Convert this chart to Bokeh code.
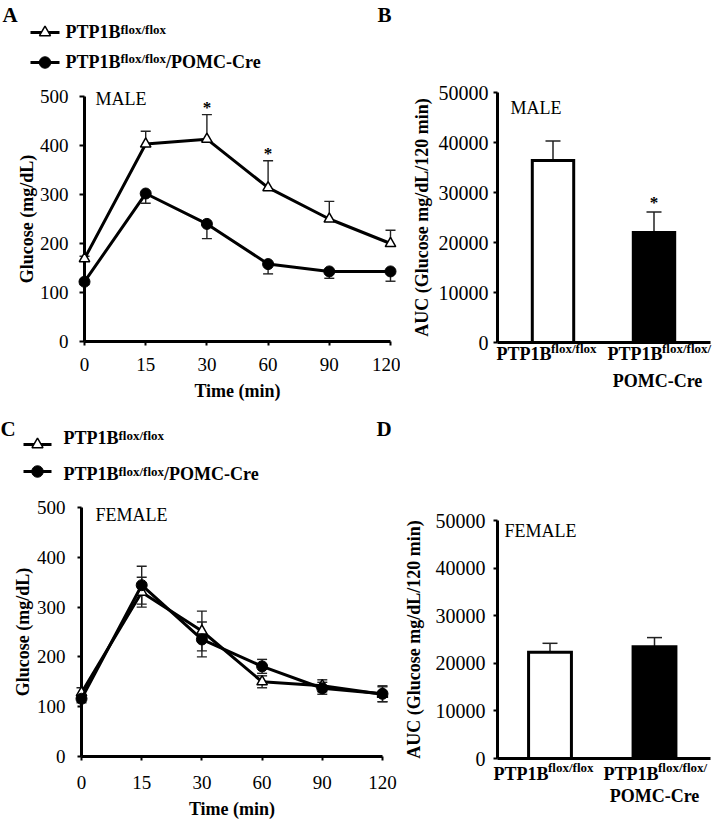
from bokeh.plotting import figure
from bokeh.models import (Range1d, FixedTicker, Whisker, TeeHead, ColumnDataSource,
                          LinearAxis)
from bokeh.layouts import row, column
from bokeh.core.properties import value
from bokeh.embed import file_html
from bokeh.resources import INLINE

# ---------------- data ----------------
time_labels = ["0", "15", "30", "60", "90", "120"]

male_ctrl = [169, 403, 413, 314, 250, 200]
male_ctrl_sem = [5, 26, 50, 55, 36, 27]
male_pomc = [122, 302, 240, 158, 143, 143]
male_pomc_sem = [6, 20, 30, 20, 14, 20]
male_sig = [False, False, True, True, False, False]

female_ctrl = [128, 330, 252, 150, 142, 125]
female_ctrl_sem = [10, 30, 40, 12, 12, 15]
female_pomc = [116, 344, 235, 181, 137, 126]
female_pomc_sem = [8, 38, 35, 14, 12, 16]

auc_groups = ["PTP1B flox/flox", "PTP1B flox/flox/POMC-Cre"]
male_auc = [36400, 22000]
male_auc_sem = [3900, 4100]
male_auc_sig = [False, True]
female_auc = [22300, 23500]
female_auc_sem = [1900, 1900]
female_auc_sig = [False, False]

glucose_ticks = [0, 100, 200, 300, 400, 500]
auc_ticks = [0, 10000, 20000, 30000, 40000, 50000]

# ---------------- layout (page pixels) ----------------
FONT = "Liberation Serif"
BASE_K = 0.33   # baseline correction (fraction of font size)
# left, top, width, height, x-origin px, y-origin px, px per x unit, px per y unit
LAY_A = (0, 0, 400, 415, 84, 341, 61.2, 0.49)
LAY_B = (400, 0, 316, 415, 552.5, 342, 101.0, 0.005)
LAY_C = (0, 415, 400, 404, 81, 756, 60.2, 0.498)
LAY_D = (400, 415, 316, 404, 549.5, 758, 104.5, 0.00476)


def make_fig(lay):
    left, top, w, h, ox, oy, sx, sy = lay
    X = lambda px: (px - ox) / sx
    Y = lambda py: (oy - py) / sy
    p = figure(width=w, height=h,
               x_range=Range1d(X(left), X(left + w)),
               y_range=Range1d(Y(top + h), Y(top)),
               output_backend="svg", toolbar_location=None,
               x_axis_type=None, y_axis_type=None, min_border=0,
               outline_line_color=None, background_fill_color="white",
               border_fill_color="white")
    return p, X, Y


def txt(p, x, y, s, size, bold=False, align="left", xo=0, yo=0):
    p.text(x=[x], y=[y], text=[s], text_font=value(FONT), text_font_size=f"{size}px",
           text_font_style="bold" if bold else "normal", text_align=align,
           text_baseline="alphabetic", text_color="black",
           x_offset=xo, y_offset=yo - BASE_K * size)


def style_axis(ax, tick_out, standoff, label_standoff, tick_size):
    ax.axis_line_color = "black"
    ax.axis_line_width = 3
    ax.major_tick_line_color = "black"
    ax.major_tick_line_width = 2
    ax.major_tick_out = tick_out
    ax.major_tick_in = 0
    ax.minor_tick_line_color = None
    ax.major_label_text_font = FONT
    ax.major_label_text_font_size = tick_size
    ax.major_label_text_color = "black"
    ax.major_label_standoff = standoff
    ax.axis_label_text_font = FONT
    ax.axis_label_text_font_size = "18px"
    ax.axis_label_text_font_style = "bold"
    ax.axis_label_text_color = "black"
    ax.axis_label_standoff = label_standoff
    ax.level = "underlay"


def add_whisker(p, xs, lower, upper, head, lo_head=True, up_head=True, lw=1.4):
    src = ColumnDataSource(dict(x=xs, lower=lower, upper=upper))
    mk = lambda: TeeHead(size=head, line_color="#222222", line_width=lw)
    w = Whisker(source=src, base="x", lower="lower", upper="upper",
                line_color="#222222", line_width=lw, level="underlay",
                upper_head=mk() if up_head else None,
                lower_head=mk() if lo_head else None)
    p.add_layout(w)


def line_panel(lay, ctrl, ctrl_sem, pomc, pomc_sem, sig, two_sided, deco):
    p, X, Y = make_fig(lay)
    idx = list(range(len(time_labels)))

    yax = LinearAxis(fixed_location=0, bounds=(0, glucose_ticks[-1]),
                     ticker=FixedTicker(ticks=glucose_ticks), axis_label="Glucose (mg/dL)")
    style_axis(yax, deco["ytick"], deco["ystand"], deco["ylabstand"], "19px")
    p.add_layout(yax, "left")
    xax = LinearAxis(fixed_location=0, bounds=(0, idx[-1]), ticker=FixedTicker(ticks=idx),
                     major_label_overrides={i: t for i, t in zip(idx, time_labels)},
                     axis_label="Time (min)")
    style_axis(xax, 4, deco["xstand"], deco["xlabstand"], "19px")
    p.add_layout(xax, "below")

    if two_sided:
        add_whisker(p, idx, [m - s for m, s in zip(ctrl, ctrl_sem)], [m + s for m, s in zip(ctrl, ctrl_sem)], 10)
        add_whisker(p, idx, [m - s for m, s in zip(pomc, pomc_sem)], [m + s for m, s in zip(pomc, pomc_sem)], 10)
    else:
        add_whisker(p, idx, ctrl, [m + s for m, s in zip(ctrl, ctrl_sem)], 10, lo_head=False)
        add_whisker(p, idx, [m - s for m, s in zip(pomc, pomc_sem)], pomc, 10, up_head=False)

    def ctrl_series():
        p.line(idx, ctrl, line_color="black", line_width=3)
        p.scatter(idx, ctrl, marker="triangle", size=10.5, fill_color="white",
                  line_color="black", line_width=1.5)

    def pomc_series():
        p.line(idx, pomc, line_color="black", line_width=3)
        p.scatter(idx, pomc, marker="circle", size=11, fill_color="black", line_color="black")

    if two_sided:
        ctrl_series(); pomc_series()
    else:
        pomc_series(); ctrl_series()

    for i, flag in enumerate(sig):
        if flag:
            txt(p, idx[i], ctrl[i] + ctrl_sem[i], "*", 17, bold=True, align="center", yo=-2)

    # legend (sample line + marker, then text with superscript)
    gx0, gx1, gy1, gy2 = deco["leg_glyph"]
    gxm = (gx0 + gx1) / 2
    p.segment(x0=[X(gx0), X(gx0)], y0=[Y(gy1), Y(gy2)], x1=[X(gx1), X(gx1)], y1=[Y(gy1), Y(gy2)],
              line_color="black", line_width=3)
    p.scatter([X(gxm)], [Y(gy1)], marker="triangle", size=11, fill_color="white",
              line_color="black", line_width=1.5)
    p.scatter([X(gxm)], [Y(gy2)], marker="circle", size=11.5, fill_color="black", line_color="black")

    tx, b1, b2 = deco["leg_text"]
    txt(p, X(tx), Y(b1), "PTP1B", 18, bold=True)
    txt(p, X(tx + 55), Y(b1 - 4.5), "flox/flox", 13, bold=True)
    txt(p, X(tx), Y(b2), "PTP1B", 18, bold=True)
    txt(p, X(tx + 55), Y(b2 - 4.5), "flox/flox", 13, bold=True)
    txt(p, X(tx + 100.5), Y(b2), "/POMC-Cre", 18, bold=True)

    sx_, sy_, s = deco["sex"]
    txt(p, X(sx_), Y(sy_), s, 18)
    for lx, ly, letter in deco["letters"]:
        txt(p, X(lx), Y(ly), letter, 21, bold=True)
    return p


def bar_panel(lay, vals, sems, sig, deco):
    p, X, Y = make_fig(lay)
    idx = list(range(len(vals)))
    ax_x = X(497)

    yax = LinearAxis(fixed_location=ax_x, bounds=(0, auc_ticks[-1]),
                     ticker=FixedTicker(ticks=auc_ticks),
                     axis_label="AUC (Glucose mg/dL/120 min)")
    style_axis(yax, 4, deco["ystand"], deco["ylabstand"], "20px")
    p.add_layout(yax, "left")
    xax = LinearAxis(fixed_location=0, bounds=(ax_x, X(710)), ticker=FixedTicker(ticks=[]))
    style_axis(xax, 0, 0, 0, "20px")
    xax.major_tick_line_color = None
    p.add_layout(xax, "below")

    add_whisker(p, idx, vals, [v + s for v, s in zip(vals, sems)], 15, lo_head=False, lw=1.5)
    src = ColumnDataSource(dict(x=idx, top=vals, fill=["white", "black"]))
    p.vbar(x="x", top="top", width=0.41, source=src, fill_color="fill",
           line_color="black", line_width=3, line_join="miter")

    for i, flag in enumerate(sig):
        if flag:
            txt(p, idx[i], vals[i] + sems[i], "*", 17, bold=True, align="center", yo=-4)

    m, su, l2 = deco["cat_y"]
    o = deco["cat_x"]
    txt(p, idx[0], 0, "PTP1B", 18, bold=True, xo=o[0], yo=m)
    txt(p, idx[0], 0, "flox/flox", 13, bold=True, xo=o[0] + 54.5, yo=su)
    txt(p, idx[1], 0, "PTP1B", 18, bold=True, xo=o[1], yo=m)
    txt(p, idx[1], 0, "flox/flox/", 13, bold=True, xo=o[1] + 54.5, yo=su)
    txt(p, idx[1], 0, "POMC-Cre", 18, bold=True, align="center", xo=o[2], yo=l2)

    sx_, sy_, s = deco["sex"]
    txt(p, X(sx_), Y(sy_), s, 18)
    return p


pA = line_panel(LAY_A, male_ctrl, male_ctrl_sem, male_pomc, male_pomc_sem, male_sig, False,
                dict(ytick=5, ystand=11, ylabstand=0, xstand=12, xlabstand=7,
                     leg_glyph=(30, 59, 32, 62), leg_text=(65, 37.3, 67),
                     sex=(95, 104, "MALE"), letters=[(2, 21, "A"), (377, 21, "B")]))
pC = line_panel(LAY_C, female_ctrl, female_ctrl_sem, female_pomc, female_pomc_sem,
                [False] * 6, True,
                dict(ytick=4, ystand=12, ylabstand=1, xstand=15, xlabstand=7,
                     leg_glyph=(23, 51, 444, 471), leg_text=(63, 443.3, 479.3),
                     sex=(95, 520, "FEMALE"), letters=[(0, 435, "C"), (376, 435, "D")]))
pB = bar_panel(LAY_B, male_auc, male_auc_sem, male_auc_sig,
               dict(ystand=5, ylabstand=4, cat_y=(17.3, 10.7, 44.7), cat_x=(-56.5, -46.5, 3.5),
                    sex=(510, 113.3, "MALE")))
pD = bar_panel(LAY_D, female_auc, female_auc_sem, female_auc_sig,
               dict(ystand=8, ylabstand=9, cat_y=(21.3, 13.7, 43.7), cat_x=(-56.5, -51, 0),
                    sex=(504, 536.7, "FEMALE")))

layout = column(row(pA, pB, spacing=0), row(pC, pD, spacing=0), spacing=0)
open("out.html", "w").write(file_html(layout, INLINE))
